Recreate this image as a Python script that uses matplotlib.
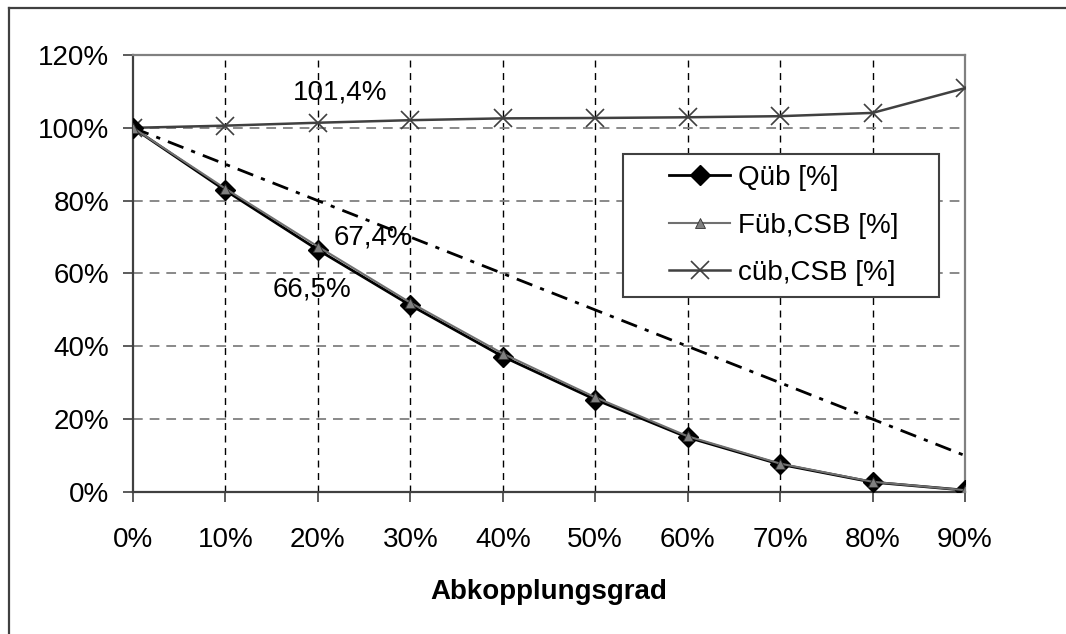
import numpy as np
import matplotlib
matplotlib.use('Agg')
import matplotlib.pyplot as plt
from matplotlib.lines import Line2D
from matplotlib.patches import Rectangle

plt.rcParams['font.family'] = ['Liberation Sans', 'DejaVu Sans']
plt.rcParams['lines.scale_dashes'] = False

# Abkopplungsgrad (x) and series in percent
grad = [0, 10, 20, 30, 40, 50, 60, 70, 80, 90]
q_ueb = [100, 82.8, 66.5, 51.3, 37.2, 25.4, 15.0, 7.6, 2.7, 0.5]
f_ueb = [100, 83.3, 67.4, 52.0, 38.0, 26.0, 15.3, 7.8, 2.8, 0.5]
c_ueb = [100, 100.6, 101.4, 102.1, 102.6, 102.7, 102.9, 103.2, 104.1, 110.9]
linear_ref = [100, 90, 80, 70, 60, 50, 40, 30, 20, 10]

y_ticks = [0, 20, 40, 60, 80, 100, 120]
x_label = 'Abkopplungsgrad'
annotations = [(22.4, 109.6, '101,4%'), (26.0, 69.8, '67,4%'), (19.4, 55.5, '66,5%')]

fs = 20
W, H = 1066, 634
fig = plt.figure(figsize=(W / 100, H / 100), dpi=100)
ax = fig.add_axes([133/W, 1 - 492/H, (965-133)/W, (492-55)/H])

# outer chart border (only left and top edges visible)
fig.add_artist(Line2D([9/W, 9/W], [0, 1 - 8/H], color='#404040', lw=1.6))
fig.add_artist(Line2D([9/W, 1], [1 - 8/H, 1 - 8/H], color='#404040', lw=1.6))

# grid
for g in grad[1:-1]:
    ax.axvline(g, color='black', lw=1.0, linestyle=(0, (5, 4)), zorder=1)
for t in y_ticks[1:-1]:
    ax.axhline(t, color='#808080', lw=1.3, linestyle=(0, (7, 5)), zorder=1)

ax.plot(grad, linear_ref, color='black', lw=2.0, linestyle=(0, (12, 6, 3, 6)), zorder=2)
ax.plot(grad, c_ueb, color='#404040', lw=1.8, marker='x', markersize=13, mew=1.2,
        label='cüb,CSB [%]', zorder=3)
ax.plot(grad, q_ueb, color='black', lw=2.0, marker='D', markersize=10.5, mfc='black', mec='black',
        label='Qüb [%]', zorder=4)
ax.plot(grad, f_ueb, color='#707070', lw=1.5, marker='^', markersize=7, mfc='#808080', mec='#303030',
        mew=0.6, label='Füb,CSB [%]', zorder=5)

for x, y, s in annotations:
    ax.text(x, y, s, fontsize=fs, ha='center', va='center', zorder=6)

ax.set_xlim(0, 90)
ax.set_ylim(0, 120)
ax.set_xticks(grad)
ax.set_xticklabels([f'{g}%' for g in grad], fontsize=fs)
ax.set_yticks(y_ticks)
ax.set_yticklabels([f'{t}%' for t in y_ticks], fontsize=fs)
ax.tick_params(axis='y', direction='out', length=7, width=1.2, color='#404040', pad=10)
ax.tick_params(axis='x', direction='out', length=7, width=1.2, color='#404040', pad=18)

for side in ['left', 'bottom']:
    ax.spines[side].set_color('#404040')
    ax.spines[side].set_linewidth(1.6)
for side in ['top', 'right']:
    ax.spines[side].set_color('#808080')
    ax.spines[side].set_linewidth(1.6)

ax.set_xlabel(x_label, fontsize=fs, fontweight='bold')
ax.xaxis.set_label_coords(0.5, (492 - 592) / 437)
ax.xaxis.label.set_va('center')

# legend frame drawn separately, content centred in it
fig.add_artist(Rectangle((623/W, 1 - 297/H), (939-623)/W, (297-154)/H, fill=True,
                         facecolor='white', edgecolor='#404040', lw=1.5, zorder=7))
handles, labels = ax.get_legend_handles_labels()
order = [1, 2, 0]
leg = fig.legend([handles[i] for i in order], [labels[i] for i in order], fontsize=fs,
                 loc='center', bbox_to_anchor=(784/W, 1 - 225.5/H),
                 frameon=False, handlelength=2.2, handletextpad=0.3,
                 labelspacing=0.78, borderpad=0, borderaxespad=0)
leg.set_zorder(8)

fig.savefig('out.png', dpi=100)
